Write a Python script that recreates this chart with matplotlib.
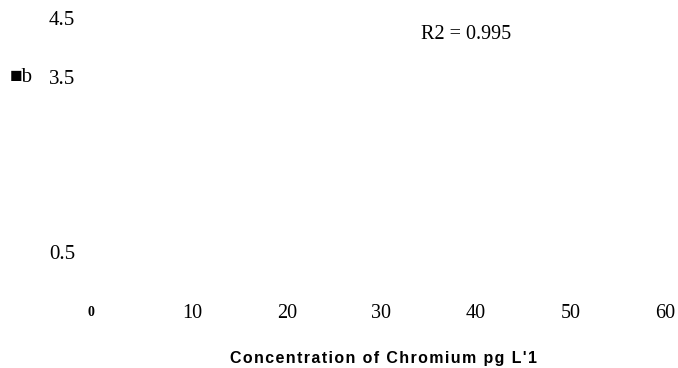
import matplotlib
matplotlib.use("Agg")
import matplotlib.pyplot as plt
import matplotlib.transforms as mtransforms

# tick values / labels
x_ticks = [0, 10, 20, 30, 40, 50, 60]
x_labels = ['0', '10', '20', '30', '40', '50', '60']
y_ticks = [0.5, 3.5, 4.5]
y_labels = ['0.5', '3.5', '4.5']
r2_text = 'R2 = 0.995'
r2_pos = (39.0, 4.21)
x_title = "Concentration of Chromium pg L'1"
y_title = '\u25a0b'

serif = ['Liberation Serif', 'DejaVu Serif']
sans = ['Liberation Sans', 'DejaVu Sans']

fig = plt.figure(figsize=(6.78, 3.68), dpi=100)
# axes box placed so the ticks land where the reference has them
ax = fig.add_axes([98/678, 1 - 281.7/368, (665 - 98)/678, (281.7 - 12.1)/368])
ax.set_xlim(0, 60)
ax.set_ylim(0, 4.6)

for s in ax.spines.values():
    s.set_visible(False)

ax.set_xticks(x_ticks)
ax.set_xticklabels(x_labels, family=serif, fontsize=14.5)
ax.set_yticks(y_ticks)
ax.set_yticklabels(y_labels, family=serif, fontsize=15)
ax.tick_params(axis='x', length=0, pad=16)
ax.tick_params(axis='y', length=0, pad=16.5)

# the "0" label is small, bold and a bit to the left
lab0 = ax.get_xticklabels()[0]
lab0.set_fontsize(10)
lab0.set_fontweight('bold')
lab0.set_transform(lab0.get_transform() +
                   mtransforms.ScaledTranslation(-7/100, -2/100, fig.dpi_scale_trans))

ax.text(r2_pos[0], r2_pos[1], r2_text, family=serif, fontsize=14.5, va='center', ha='center')

fig.text(21.5/678, 1 - 78/368, y_title, family=serif, fontsize=15, va='center', ha='center')

# letter-spaced bold title
spaced = '\u200a'.join(x_title)
fig.text(384/678, 1 - 358/368, spaced, family=sans, fontweight='bold',
         fontsize=11.5, va='center', ha='center')

fig.savefig('out.png', dpi=100)
